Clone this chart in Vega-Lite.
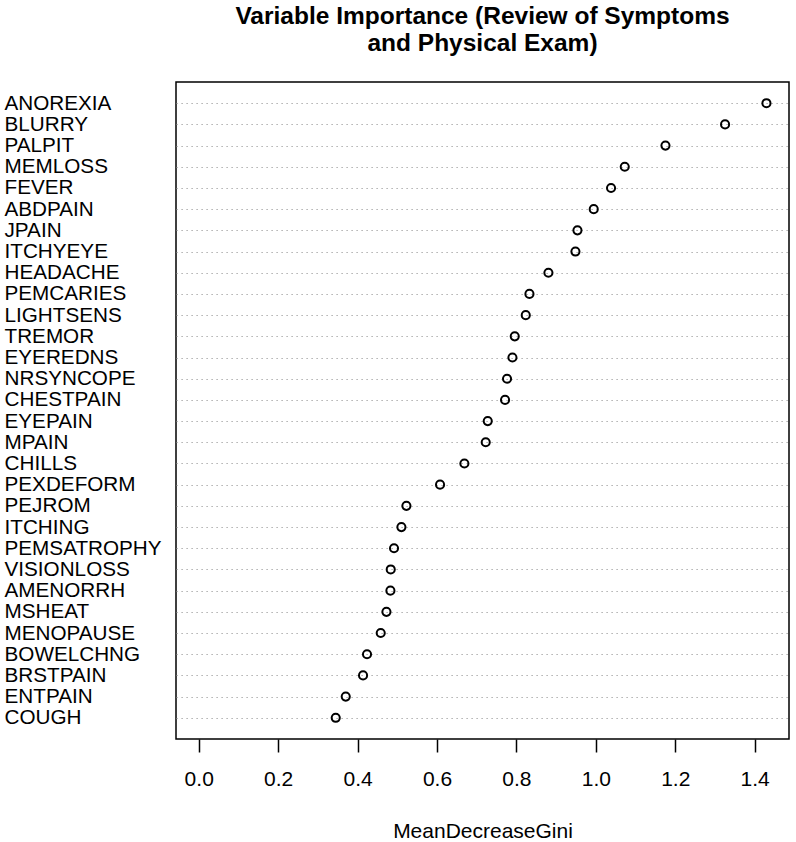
{
  "$schema": "https://vega.github.io/schema/vega-lite/v6.json",
  "autosize": {"type": "none"},
  "width": 613,
  "height": 657,
  "padding": {"left": 176, "top": 82, "right": 7, "bottom": 103},
  "background": "white",
  "title": {
    "text": ["Variable Importance (Review of Symptoms", "and Physical Exam)"],
    "font": "Liberation Sans",
    "fontSize": 24.5,
    "fontWeight": "bold",
    "color": "black",
    "anchor": "middle",
    "baseline": "alphabetic",
    "lineHeight": 27.3,
    "offset": 6
  },
  "config": {
    "view": {"stroke": "black", "strokeWidth": 1.5},
    "font": "Liberation Sans"
  },
  "data": {
    "values": [
      {"variable": "ANOREXIA", "MeanDecreaseGini": 1.4296},
      {"variable": "BLURRY", "MeanDecreaseGini": 1.3254},
      {"variable": "PALPIT", "MeanDecreaseGini": 1.1753},
      {"variable": "MEMLOSS", "MeanDecreaseGini": 1.0728},
      {"variable": "FEVER", "MeanDecreaseGini": 1.0383},
      {"variable": "ABDPAIN", "MeanDecreaseGini": 0.9947},
      {"variable": "JPAIN", "MeanDecreaseGini": 0.9537},
      {"variable": "ITCHYEYE", "MeanDecreaseGini": 0.9486},
      {"variable": "HEADACHE", "MeanDecreaseGini": 0.8806},
      {"variable": "PEMCARIES", "MeanDecreaseGini": 0.8328},
      {"variable": "LIGHTSENS", "MeanDecreaseGini": 0.8235},
      {"variable": "TREMOR", "MeanDecreaseGini": 0.7958},
      {"variable": "EYEREDNS", "MeanDecreaseGini": 0.790},
      {"variable": "NRSYNCOPE", "MeanDecreaseGini": 0.7764},
      {"variable": "CHESTPAIN", "MeanDecreaseGini": 0.7714},
      {"variable": "EYEPAIN", "MeanDecreaseGini": 0.7278},
      {"variable": "MPAIN", "MeanDecreaseGini": 0.7227},
      {"variable": "CHILLS", "MeanDecreaseGini": 0.669},
      {"variable": "PEXDEFORM", "MeanDecreaseGini": 0.6077},
      {"variable": "PEJROM", "MeanDecreaseGini": 0.523},
      {"variable": "ITCHING", "MeanDecreaseGini": 0.5104},
      {"variable": "PEMSATROPHY", "MeanDecreaseGini": 0.4918},
      {"variable": "VISIONLOSS", "MeanDecreaseGini": 0.4835},
      {"variable": "AMENORRH", "MeanDecreaseGini": 0.4827},
      {"variable": "MSHEAT", "MeanDecreaseGini": 0.4727},
      {"variable": "MENOPAUSE", "MeanDecreaseGini": 0.4583},
      {"variable": "BOWELCHNG", "MeanDecreaseGini": 0.4238},
      {"variable": "BRSTPAIN", "MeanDecreaseGini": 0.4138},
      {"variable": "ENTPAIN", "MeanDecreaseGini": 0.3702},
      {"variable": "COUGH", "MeanDecreaseGini": 0.345}
    ]
  },
  "mark": {"type": "point", "shape": "circle", "filled": false, "stroke": "black", "strokeWidth": 2, "size": 66, "opacity": 1},
  "encoding": {
    "x": {
      "field": "MeanDecreaseGini",
      "type": "quantitative",
      "scale": {"domain": [-0.0572, 1.4864], "nice": false, "zero": false},
      "axis": {
        "values": [0, 0.2, 0.4, 0.6, 0.8, 1.0, 1.2, 1.4],
        "format": ".1f",
        "grid": false,
        "domain": false,
        "ticks": true,
        "tickSize": 13,
        "tickWidth": 1.5,
        "tickColor": "black",
        "labelFont": "Liberation Sans",
        "labelFontSize": 21,
        "labelColor": "black",
        "labelBaseline": "alphabetic",
        "labelPadding": 33,
        "labelFlush": false,
        "labelOverlap": false,
        "title": "MeanDecreaseGini",
        "titleFont": "Liberation Sans",
        "titleFontSize": 21,
        "titleFontWeight": "normal",
        "titleColor": "black",
        "titleBaseline": "alphabetic",
        "titleY": 98
      }
    },
    "y": {
      "field": "variable",
      "type": "nominal",
      "sort": null,
      "scale": {"type": "point", "padding": 1},
      "axis": {
        "title": null,
        "domain": false,
        "ticks": false,
        "tickSize": 0,
        "grid": true,
        "gridColor": "#9a9a9a",
        "gridDash": [1.2, 3.8],
        "gridWidth": 1,
        "labelAlign": "left",
        "labelBaseline": "middle",
        "labelPadding": 172,
        "labelLimit": 400,
        "labelFont": "Liberation Sans",
        "labelFontSize": 20.7,
        "labelColor": "black",
        "labelOverlap": false
      }
    }
  }
}
